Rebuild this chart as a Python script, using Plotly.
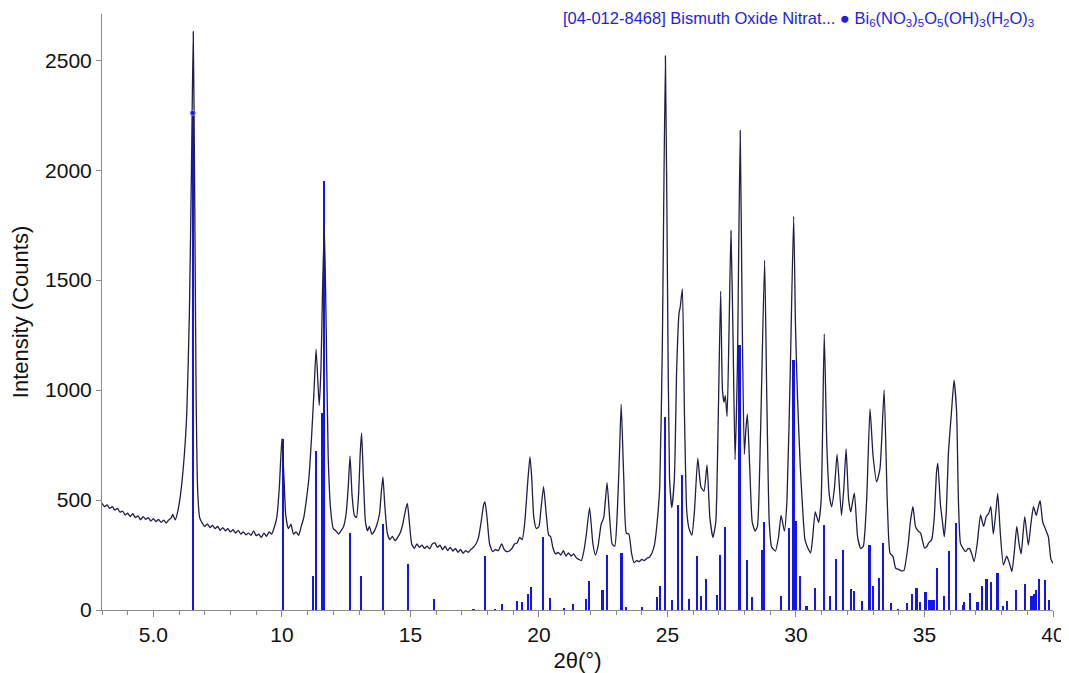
import plotly.graph_objects as go

# ---- measured pattern (2θ in degrees, intensity in counts) ----
two_theta = [
    3.0, 3.1, 3.2, 3.3, 3.4, 3.5, 3.6, 3.7, 3.8, 3.9, 4.0, 4.1, 4.2, 4.3, 4.4, 4.5, 4.6, 4.7, 4.8, 4.9,
    5.0, 5.1, 5.2, 5.3, 5.4, 5.5, 5.6, 5.7, 5.75, 5.85, 5.95, 6.05, 6.2, 6.3, 6.4, 6.48, 6.55, 6.6, 6.66, 6.72,
    6.8, 6.9, 7.0, 7.1, 7.2, 7.3, 7.4, 7.5, 7.6, 7.7, 7.8, 7.9, 8.0, 8.1, 8.2, 8.3, 8.4, 8.5, 8.6, 8.7,
    8.8, 8.9, 9.0, 9.1, 9.2, 9.3, 9.4, 9.5, 9.6, 9.7, 9.8, 9.9, 10.0, 10.08, 10.15, 10.25, 10.35, 10.45, 10.55, 10.65,
    10.75, 10.85, 10.95, 11.05, 11.15, 11.25, 11.33, 11.45, 11.52, 11.58, 11.65, 11.72, 11.8, 11.9, 12.0, 12.1, 12.2, 12.3, 12.4, 12.5,
    12.58, 12.65, 12.73, 12.82, 12.9, 12.98, 13.05, 13.1, 13.17, 13.25, 13.33, 13.4, 13.5, 13.6, 13.7, 13.8, 13.87, 13.93, 14.0, 14.1,
    14.2, 14.3, 14.4, 14.5, 14.6, 14.7, 14.8, 14.88, 14.95, 15.05, 15.15, 15.25, 15.35, 15.45, 15.55, 15.65, 15.75, 15.85, 15.95, 16.05,
    16.15, 16.25, 16.35, 16.45, 16.55, 16.65, 16.75, 16.85, 16.95, 17.05, 17.15, 17.25, 17.35, 17.45, 17.55, 17.65, 17.75, 17.85, 17.9, 17.98,
    18.08, 18.2, 18.3, 18.42, 18.55, 18.65, 18.75, 18.85, 18.95, 19.05, 19.15, 19.25, 19.35, 19.45, 19.55, 19.65, 19.72, 19.8, 19.9, 20.0,
    20.08, 20.18, 20.28, 20.38, 20.45, 20.55, 20.65, 20.75, 20.85, 20.95, 21.05, 21.15, 21.25, 21.35, 21.45, 21.55, 21.65, 21.75, 21.85, 21.97,
    22.1, 22.2, 22.3, 22.42, 22.52, 22.65, 22.75, 22.85, 22.95, 23.05, 23.13, 23.2, 23.3, 23.4, 23.5, 23.6, 23.7, 23.8, 23.9, 24.0,
    24.1, 24.2, 24.3, 24.4, 24.5, 24.6, 24.7, 24.8, 24.92, 25.0, 25.08, 25.17, 25.27, 25.36, 25.45, 25.5, 25.58, 25.66, 25.75, 25.84,
    25.95, 26.05, 26.18, 26.3, 26.42, 26.54, 26.65, 26.77, 26.88, 26.98, 27.07, 27.14, 27.2, 27.25, 27.32, 27.4, 27.47, 27.55, 27.63, 27.72,
    27.83, 27.91, 27.99, 28.05, 28.11, 28.2, 28.3, 28.41, 28.5, 28.62, 28.78, 28.86, 28.96, 29.05, 29.2, 29.32, 29.42, 29.55, 29.65, 29.78,
    29.91, 29.98, 30.05, 30.16, 30.25, 30.35, 30.47, 30.57, 30.65, 30.75, 30.88, 30.98, 31.1, 31.2, 31.3, 31.39, 31.5, 31.6, 31.77, 31.86,
    31.95, 32.05, 32.13, 32.27, 32.4, 32.52, 32.62, 32.75, 32.88, 33.0, 33.14, 33.27, 33.43, 33.55, 33.66, 33.77, 33.88, 34.0, 34.1, 34.2,
    34.37, 34.45, 34.55, 34.65, 34.75, 34.85, 35.0, 35.1, 35.15, 35.28, 35.38, 35.47, 35.52, 35.62, 35.7, 35.77, 35.85, 35.93, 36.05, 36.15,
    36.25, 36.32, 36.4, 36.5, 36.6, 36.7, 36.77, 36.85, 36.93, 37.05, 37.18, 37.3, 37.4, 37.5, 37.58, 37.68, 37.78, 37.85, 37.95, 38.07,
    38.2, 38.3, 38.4, 38.5, 38.59, 38.68, 38.76, 38.9, 39.04, 39.15, 39.24, 39.35, 39.43, 39.5, 39.6, 39.7, 39.82, 39.92, 40.0,
]
intensity = [
    485, 470, 478, 462, 470, 455, 462, 445, 450, 432, 440, 425, 438, 420, 428, 410, 425, 412, 420, 405,
    415, 402, 412, 398, 408, 395, 410, 420, 435, 410, 450, 520, 700, 900, 1350, 2000, 2630, 2000, 1000, 550,
    420, 395, 380, 392, 375, 385, 370, 380, 362, 375, 360, 370, 355, 365, 350, 362, 345, 355, 342, 350,
    340, 360, 338, 345, 330, 350, 335, 355, 345, 375, 420, 560, 780, 600, 430, 370, 390, 345, 355, 340,
    380, 420, 500, 600, 780, 1000, 1185, 930, 1100, 1450, 1750, 1300, 700, 450, 370, 360, 345, 360, 380, 440,
    560, 700, 520, 430, 420, 520, 720, 805, 600, 400, 360, 380, 345, 360, 390, 440, 540, 605, 480, 350,
    320, 335, 315, 330, 350, 390, 450, 485, 410, 300, 280, 300, 285, 295, 280, 290, 278, 300, 305, 285,
    295, 275, 290, 270, 285, 268, 280, 262, 275, 258, 270, 262, 275, 285, 300, 330, 400, 480, 492, 420,
    300, 265, 275, 270, 300, 275, 265, 268, 280, 300, 305, 330, 320, 400, 560, 697, 600, 420, 370, 380,
    460, 561, 440, 340, 335, 280, 255, 262, 250, 270, 245, 260, 245, 255, 238, 230, 225, 270, 350, 465,
    300, 250, 290, 390, 420, 579, 420, 300, 290, 450, 700, 935, 600, 350, 345, 260, 215, 225, 220, 230,
    225, 235, 240, 260, 300, 400, 560, 1200, 2520, 1500, 600, 465, 600, 1100, 1350, 1380, 1460, 900, 450, 370,
    340, 450, 690, 560, 540, 660, 420, 330, 400, 900, 1450, 1000, 945, 975, 880, 1300, 1725, 1250, 684, 1100,
    2180, 1300, 708, 820, 890, 650, 398, 359, 380, 800, 1590, 1000, 400, 287, 268, 330, 430, 359, 500, 1100,
    1790, 1300, 1000, 670, 480, 320, 280, 260, 330, 446, 398, 500, 1255, 750, 520, 470, 560, 708, 430, 550,
    732, 500, 446, 533, 330, 279, 290, 500, 914, 700, 583, 644, 1000, 500, 258, 245, 190, 185, 178, 180,
    303, 400, 470, 380, 360, 350, 282, 290, 303, 320, 420, 630, 667, 480, 400, 333, 450, 712, 900, 1045,
    900, 500, 303, 280, 265, 280, 276, 250, 220, 300, 432, 380, 424, 440, 470, 345, 450, 530, 350, 205,
    245, 215, 175, 270, 380, 300, 255, 424, 295, 400, 470, 430, 470, 497, 400, 370, 333, 230, 212,
]

# ---- reference pattern [04-012-8468] stick positions and heights ----
ref_two_theta = [
    6.53, 10.03, 11.2, 11.33, 11.55, 11.64, 12.64, 13.09, 13.92, 14.89,
    15.92, 17.45, 17.9, 18.29, 18.56, 19.15, 19.34, 19.58, 19.68, 20.16,
    20.44, 20.99, 21.34, 21.82, 21.95, 22.47, 22.64, 23.21, 23.4, 24.01,
    24.6, 24.71, 24.91, 25.18, 25.42, 25.58, 25.85, 26.15, 26.32, 26.51,
    26.93, 27.03, 27.23, 27.8, 28.1, 28.29, 28.69, 28.77, 29.42, 29.73,
    29.9, 29.99, 30.16, 30.4, 30.44, 30.74, 31.08, 31.31, 31.56, 31.84,
    32.13, 32.27, 32.58, 32.86, 33.01, 33.23, 33.4, 33.71, 33.96, 34.33,
    34.52, 34.69, 34.84, 35.04, 35.18, 35.26, 35.35, 35.5, 35.76, 35.96,
    36.24, 36.49, 36.55, 36.77, 37.06, 37.24, 37.41, 37.58, 37.84, 38.06,
    38.21, 38.55, 38.9, 39.13, 39.2, 39.26, 39.34, 39.47, 39.7, 39.84,
]
ref_intensity = [
    2260, 776, 156, 724, 897, 1950, 352, 156, 389, 209,
    50, 3, 247, 2, 29, 39, 36, 71, 105, 330,
    55, 8, 29, 52, 130, 92, 251, 259, 14, 14,
    59, 108, 876, 47, 476, 612, 52, 244, 62, 142,
    70, 248, 379, 1205, 229, 59, 273, 400, 62, 371,
    1136, 406, 153, 17, 17, 98, 386, 64, 233, 274,
    97, 85, 41, 297, 109, 147, 305, 30, 3, 33,
    73, 101, 35, 82, 44, 44, 44, 191, 64, 270,
    397, 24, 36, 76, 36, 109, 142, 127, 170, 18,
    41, 89, 117, 62, 62, 73, 89, 142, 136, 44,
]
marker_two_theta = [6.53]
marker_intensity = [2260]

x_tick_vals = [5, 10, 15, 20, 25, 30, 35, 40]
x_tick_text = ["5.0", "10", "15", "20", "25", "30", "35", "40"]
y_tick_vals = [0, 500, 1000, 1500, 2000, 2500]

FONT = "Liberation Sans, Arial, sans-serif"
CURVE = "rgb(30,30,72)"
STICK = "rgb(20,20,235)"

fig = go.Figure()
fig.add_trace(go.Scatter(
    x=two_theta, y=intensity, mode="lines",
    line=dict(color=CURVE, width=1.3, shape="spline", smoothing=0.5),
    hoverinfo="x+y", showlegend=False,
))
fig.add_trace(go.Bar(
    x=ref_two_theta, y=ref_intensity, width=0.085,
    marker=dict(color=STICK, line=dict(width=0)),
    showlegend=False,
))
fig.add_trace(go.Scatter(
    x=marker_two_theta, y=marker_intensity, mode="markers",
    marker=dict(color=STICK, size=5, symbol="circle",
                line=dict(color="rgb(140,140,255)", width=1)),
    showlegend=False,
))

# the page body adds an 8px margin, so the figure is sized/offset to compensate
W, H = 1061, 665
M_L, M_R, M_T, M_B = 94, 16, 6, 63
plot_h = H - M_T - M_B

fig.update_layout(
    width=W, height=H,
    margin=dict(l=M_L, r=M_R, t=M_T, b=M_B, autoexpand=False),
    paper_bgcolor="white", plot_bgcolor="white",
    font=dict(family=FONT, color="#111111"),
    bargap=0,
    xaxis=dict(
        range=[3, 40], showgrid=False, zeroline=False, automargin=False,
        showline=True, linecolor="#8a8a8a", linewidth=1,
        ticks="outside", ticklen=6, tickcolor="#8a8a8a",
        tickvals=x_tick_vals, ticktext=x_tick_text,
        tickfont=dict(size=21, family=FONT, color="#111111"),
        minor=dict(dtick=1, tick0=3, ticks="outside", ticklen=4, tickcolor="#8a8a8a"),
        title=dict(text="2θ(°)", font=dict(size=22, family=FONT, color="#111111"), standoff=9),
    ),
    yaxis=dict(
        range=[0, 2710], showgrid=False, zeroline=False, automargin=False,
        showline=True, linecolor="#8a8a8a", linewidth=1,
        ticks="outside", ticklen=5, tickcolor="#8a8a8a",
        tickvals=y_tick_vals,
        tickfont=dict(size=21, family=FONT, color="#111111"),
        title=dict(text="Intensity (Counts)", font=dict(size=22, family=FONT, color="#111111"), standoff=12),
    ),
    annotations=[dict(
        xref="paper", yref="paper", x=0.981, y=1 + (M_T - 0.5) / plot_h,
        xanchor="right", yanchor="top",
        text="[04-012-8468] Bismuth Oxide Nitrat... ● Bi<sub>6</sub>(NO<sub>3</sub>)<sub>5</sub>O<sub>5</sub>(OH)<sub>3</sub>(H<sub>2</sub>O)<sub>3</sub>",
        showarrow=False, borderpad=0, font=dict(size=16.5, family=FONT, color="rgb(30,30,220)"),
    )],
)

fig.write_html("out.html")
